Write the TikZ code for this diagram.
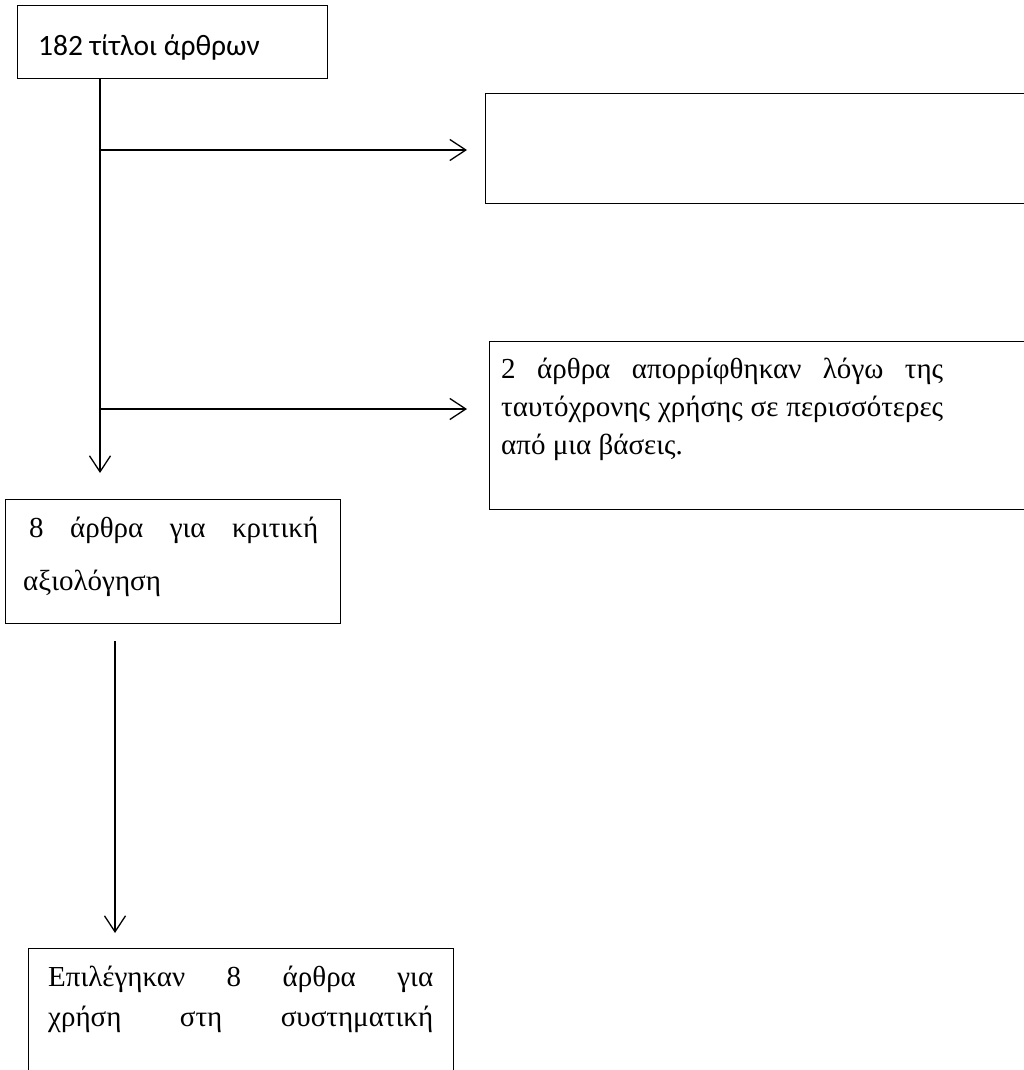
\documentclass[tikz,border=0pt]{standalone}
\usepackage{fontspec}
\setmainfont{Liberation Serif}
\newfontfamily\calfont{Carlito}
\usetikzlibrary{arrows.meta}
\tikzset{
  box/.style={draw, line width=1.3pt, anchor=north west, inner sep=0pt},
  para/.style={anchor=north west, inner sep=0pt, align=justify},
  conn/.style={line width=1.3pt},
  arr/.style={line width=1.3pt, -{Straight Barb[length=16pt,width=21pt,line width=1.3pt]}},
}
\begin{document}
\begin{tikzpicture}[x=1pt,y=1pt]
\useasboundingbox (0,0) rectangle (1024,-1070);
% boxes
\node[box, minimum width=310pt, minimum height=73pt] (b1) at (17,-5) {};
\node[anchor=base west, inner sep=0pt, font=\calfont\fontsize{29.5}{35}\selectfont] (t1) at (38,-56) {182 τίτλοι άρθρων};
\node[box, minimum width=600pt, minimum height=110pt] (b2) at (485,-93) {};
\node[box, minimum width=600pt, minimum height=168pt] (b3) at (489,-341) {};
\node[para, text width=442pt, font=\fontsize{29}{38}\selectfont] (t3) at (501,-354)
  {\rule{0pt}{24pt}2 άρθρα απορρίφθηκαν λόγω της\linebreak ταυτόχρονης χρήσης σε περισσότερες\linebreak από μια βάσεις.};
\node[box, minimum width=335pt, minimum height=124pt] (b4) at (5,-499) {};
\node[para, text width=295pt, font=\fontsize{29}{53}\selectfont] (t4) at (23,-513)
  {\rule{0pt}{24pt}\hspace*{6pt}8 άρθρα για κριτική\linebreak αξιολόγηση};
\node[box, minimum width=425pt, minimum height=200pt] (b5) at (28,-948) {};
\node[para, text width=385pt, font=\fontsize{29}{40}\selectfont] (t5) at (48,-962)
  {\rule{0pt}{24pt}Επιλέγηκαν 8 άρθρα για\linebreak \makebox[385pt][s]{χρήση στη συστηματική}};
% connectors
\coordinate (j1) at (100,-150);
\coordinate (j2) at (100,-409);
\coordinate (k) at (115,-640);
\draw[arr, shorten >=26pt] (b1.south -| j1) -- (j1 |- b4.north);
\draw[arr, shorten >=18pt] (j1) -- (j1 -| b2.west);
\draw[arr, shorten >=22pt] (j2) -- (j2 -| b3.west);
\draw[arr, shorten <=17pt, shorten >=15pt] (b4.south -| k) -- (k |- b5.north);
\end{tikzpicture}
\end{document}
